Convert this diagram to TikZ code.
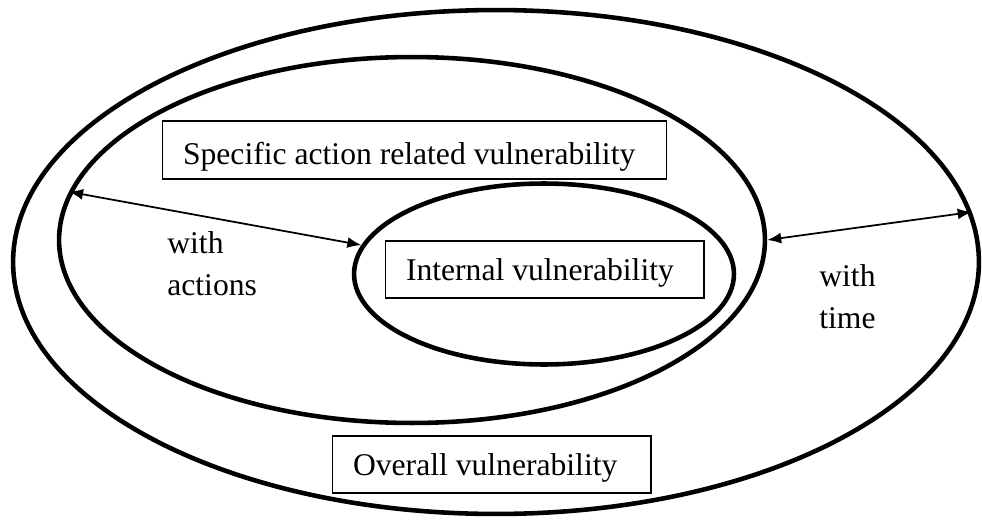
\documentclass[tikz,border=0pt]{standalone}
\usepackage{fontspec}
\setmainfont{Liberation Serif}
\usetikzlibrary{shapes.geometric,arrows.meta}

\tikzset{
  ring/.style={ellipse, draw, line width=2.6pt, inner sep=0pt},
  labelbox/.style={rectangle, draw, line width=0.6pt, align=flush left,
    inner xsep=0.42cm, inner ysep=0pt, text height=0.58cm, text depth=0.14cm,
    minimum height=1.14cm},
  twoway/.style={{Latex[length=0.28cm,width=0.22cm]}-{Latex[length=0.28cm,width=0.22cm]}, line width=1pt}
}

\begin{document}
\begin{tikzpicture}[x=0.02cm, y=-0.02cm, font=\fontsize{18}{23.8}\selectfont]
    \useasboundingbox (0,0) rectangle (982,520);

    % Rings
    \node[ring, minimum width=19.32cm, minimum height=10.08cm] (overall) at (496,262) {};
    \node[ring, minimum width=14.12cm, minimum height=7.32cm] (specific) at (412,240) {};
    \node[ring, minimum width=7.60cm, minimum height=3.62cm] (internal) at (544,274) {};

    % Boxes
    \node[labelbox, text width=9.26cm, minimum height=1.16cm, text height=0.72cm] (specbox) at (414.5,150) {Specific action related vulnerability};
    \node[labelbox, text width=5.54cm] (intbox) at (544.5,269.5) {Internal vulnerability};
    \node[labelbox, text width=5.54cm] (allbox) at (491.5,464.5) {Overall vulnerability};

    % Arrows with labels
    \draw[twoway] (specific.172) -- (internal.171.3);
    \draw[twoway] (specific.0) -- (overall.6.4);
    \node[anchor=north west, inner sep=0pt, align=flush left] (actions) at (167,231.4) {with\\actions};
    \node[anchor=north west, inner sep=0pt, align=flush left] (time) at (819,264.4) {with\\time};
\end{tikzpicture}
\end{document}
